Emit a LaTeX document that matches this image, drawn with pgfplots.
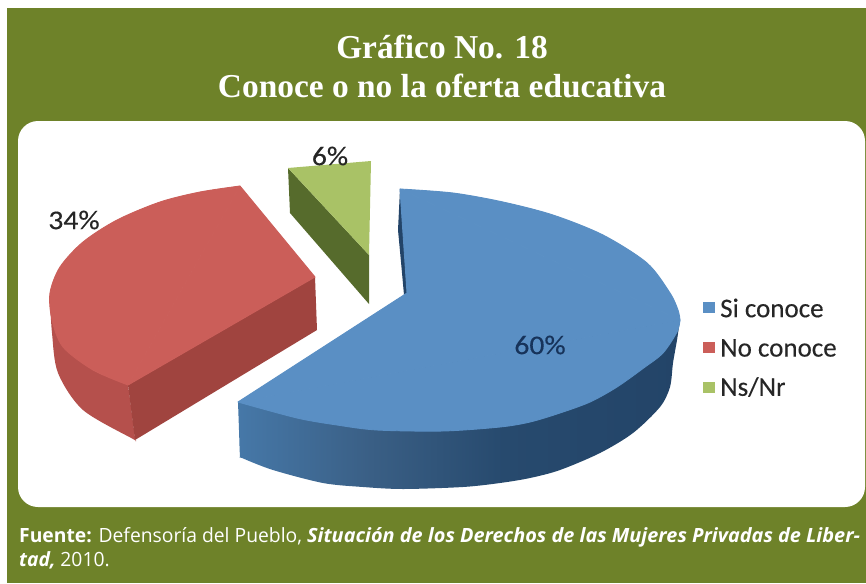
\documentclass[border=0pt]{standalone}
\usepackage{pgfplots}
\pgfplotsset{compat=1.18}
\usepackage{fontspec}
\setmainfont{Carlito}
\newfontfamily\lab[FakeBold=0.25]{Carlito}
\newfontfamily\titlef{Liberation Serif}
\newfontfamily\notef{Open Sans}
\definecolor{bg}{HTML}{6E8229}
\definecolor{btop}{HTML}{5A8FC4}
\definecolor{rtop}{HTML}{CB5E59}
\definecolor{rleft}{HTML}{B5504C}
\definecolor{rfront}{HTML}{A0443F}
\definecolor{gtop}{HTML}{A9C266}
\definecolor{gside}{HTML}{566B2C}
\definecolor{bs1}{HTML}{4678A8}
\definecolor{bs2}{HTML}{3A5F85}
\definecolor{bs3}{HTML}{274A6E}
\definecolor{bs4}{HTML}{234468}
\definecolor{navy}{HTML}{17335A}
\pgfdeclarehorizontalshading{bside}{100bp}{color(0bp)=(bs1); color(25bp)=(bs1); color(40bp)=(bs2); color(55bp)=(bs3); color(75bp)=(bs4); color(100bp)=(bs4)}
\begin{document}
\begin{tikzpicture}
\begin{axis}[width=866pt,height=583pt,scale only axis,xmin=0,xmax=866,ymin=0,ymax=583,y dir=reverse,hide axis,clip=true,
  every axis plot/.append style={line join=round}]
\path (axis cs:0,0) rectangle (axis cs:866,583);
% frame
\addplot[fill=bg,draw=none] coordinates {(7,8)(866,8)(866,583)(7,583)} -- cycle;
\addplot[fill=white,draw=none,rounded corners=20pt] coordinates {(18,121)(865,121)(865,507)(18,507)} -- cycle;
% blue side wall
\addplot[smooth,shading=bside,draw=none] coordinates {(238,402)(239,430)(240,456)(242,458)(273,470)(323,483)(363,487)(403,489)(463,487)(500,483)(530,478)(560,470)(600,453)(633,433)(660,407)(670,387)(673,363)(677,340)(680,320)};
% blue inner sliver
\addplot[fill=bs4,draw=none] coordinates {(400,189)(398,230)(401,262)(404,295)(409,292)(406,250)(403,210)} -- cycle;
% blue top
\addplot[smooth,fill=btop,draw=btop,line width=0.9pt] coordinates {(400,189)(453,193)(503,202)(553,215)(603,235)(647,263)(670,293)(678,310)(680,320)};
\addplot[smooth,fill=btop,draw=btop,line width=0.9pt] coordinates {(680,320)(677,332)(663,353)(645,367)(617,387)(590,402)(560,413)(530,422)(500,427)(443,431)(377,430)(337,425)(297,418)(238,402)};
\addplot[fill=btop,draw=btop,line width=0.9pt] coordinates {(400,189)(407,293)(680,320)} -- cycle;
\addplot[fill=btop,draw=btop,line width=0.9pt] coordinates {(680,320)(407,293)(238,402)} -- cycle;
% red walls
\addplot[fill=rleft,draw=none,smooth] coordinates {(50,300)(52,333)(58,373)(83,410)(133,439)(135,440)(135,438)(128,385)(126,384)(93,370)(63,347)};
\addplot[fill=rfront,draw=none] coordinates {(128,385)(315,277)(317,330)(135,440)} -- cycle;
% red top
\addplot[smooth,fill=rtop,draw=rtop,line width=0.9pt] coordinates {(240,186)(200,192)(160,202)(117,220)(83,242)(60,267)(50,293)(52,320)(63,347)(93,370)(128,385)};
\addplot[fill=rtop,draw=rtop,line width=0.9pt] coordinates {(240,186)(128,385)(315,277)} -- cycle;
% green
\addplot[fill=gside,draw=none] coordinates {(288,168)(369,255)(369,304)(290,213)} -- cycle;
\addplot[fill=gtop,draw=none] coordinates {(288,168)(371,161)(369,255)} -- cycle;
% legend swatches
\addplot[fill=btop,draw=none] coordinates {(703,302)(715,302)(715,313)(703,313)} -- cycle;
\addplot[fill=rtop,draw=none] coordinates {(703,342)(715,342)(715,353)(703,353)} -- cycle;
\addplot[fill=gtop,draw=none] coordinates {(703,382)(715,382)(715,393)(703,393)} -- cycle;
% texts
\node[text=white,font=\titlef\bfseries\fontsize{33.4}{33.4}\selectfont] at (axis cs:442,47) {Gráfico No. 18};
\node[text=white,font=\titlef\bfseries\fontsize{33.4}{33.4}\selectfont] at (axis cs:442,86) {Conoce o no la oferta educativa};
\node[text=black!85,font=\lab\fontsize{27}{27}\selectfont] at (axis cs:330,156) {\scalebox{1.1}[1]{6\%}};
\node[text=black!85,font=\lab\fontsize{27}{27}\selectfont] at (axis cs:74,220) {\scalebox{1.1}[1]{34\%}};
\node[text=navy,font=\lab\fontsize{27}{27}\selectfont] at (axis cs:540,345) {\scalebox{1.1}[1]{60\%}};
\node[anchor=west,inner sep=0pt,text=black!85,font=\lab\fontsize{27}{27}\selectfont] at (axis cs:720,308) {Si conoce};
\node[anchor=west,inner sep=0pt,text=black!85,font=\lab\fontsize{27}{27}\selectfont] at (axis cs:720,348) {No conoce};
\node[anchor=west,inner sep=0pt,text=black!85,font=\lab\fontsize{27}{27}\selectfont] at (axis cs:720,387) {Ns/Nr};
\node[anchor=base west,inner sep=0pt,text=white,font=\notef\fontsize{19.6}{19.6}\selectfont] at (axis cs:19,542) {\scalebox{0.985}[1]{\textbf{Fuente:} Defensoría del Pueblo,} \scalebox{1.015}[1]{\textbf{\textit{Situación de los Derechos de las Mujeres Privadas de Liber-}}}};
\node[anchor=base west,inner sep=0pt,text=white,font=\notef\fontsize{19.6}{19.6}\selectfont] at (axis cs:19,566) {\scalebox{0.985}[1]{\textbf{\textit{tad,}} 2010.}};
\end{axis}
\end{tikzpicture}
\end{document}
